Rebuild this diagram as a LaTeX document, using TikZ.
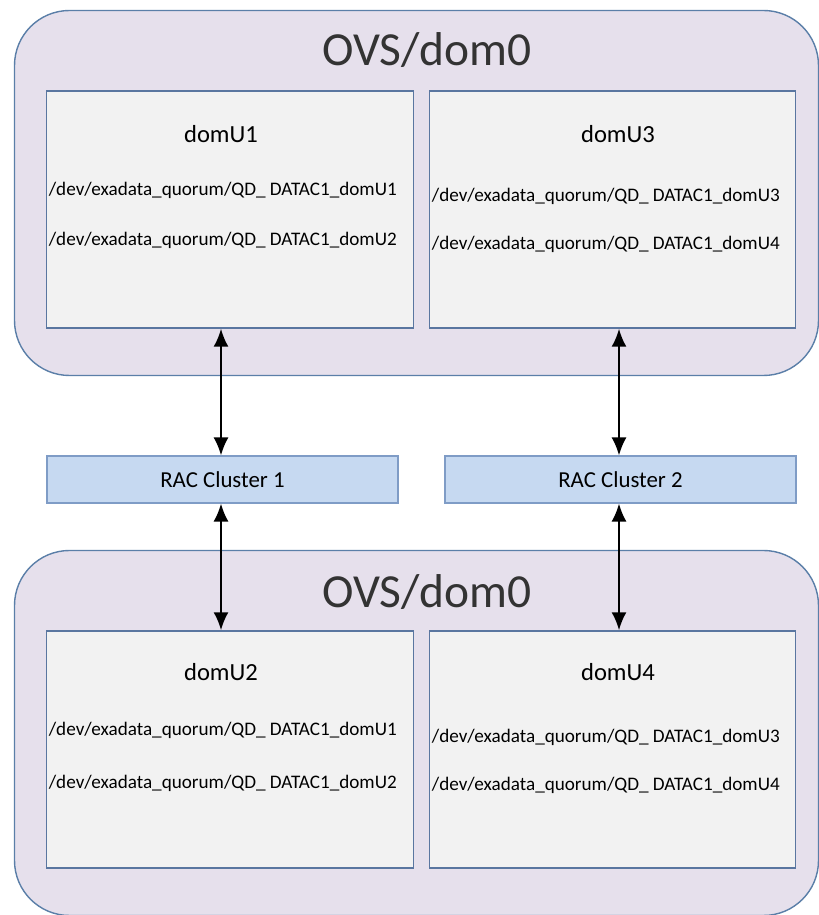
\documentclass[tikz,border=0pt]{standalone}
\usepackage{fontspec}
\setmainfont{Carlito}
\usetikzlibrary{arrows.meta}
\definecolor{hostfill}{HTML}{E6E0EC}
\definecolor{hostline}{HTML}{5B7FA8}
\definecolor{guestfill}{HTML}{F2F2F2}
\definecolor{guestline}{HTML}{5A76A0}
\definecolor{racfill}{HTML}{C6D9F1}
\definecolor{racline}{HTML}{7F9CC6}
\begin{document}
\begin{tikzpicture}[
  host/.style={rectangle, rounded corners=1.1cm, draw=hostline, fill=hostfill, line width=0.8pt, minimum width=16.08cm, minimum height=7.3cm},
  guest/.style={rectangle, draw=guestline, fill=guestfill, line width=0.8pt, minimum width=7.33cm, minimum height=4.74cm},
  rac/.style={rectangle, draw=racline, fill=racfill, line width=0.6pt, minimum width=7.02cm, minimum height=0.94cm, font=\fontsize{13}{15}\selectfont},
  title/.style={font=\fontsize{27}{30}\selectfont, text=black!80},
  vm/.style={font=\fontsize{14}{16}\selectfont},
  disk/.style={font=\fontsize{10.9}{12}\selectfont, inner sep=0pt},
  link/.style={{Latex[length=3.6mm,width=3mm]}-{Latex[length=3.6mm,width=3mm]}, line width=1.2pt}
]
\useasboundingbox (0,0) rectangle (16.36,18.3);
% hosts
\node[host] (top) at (8.33,14.44) {};
\node[host] (bot) at (8.33,3.64) {};
\node[title] (toptitle) at (8.54,17.3) {OVS/dom0};
\node[title] (bottitle) at (8.54,6.45) {OVS/dom0};
% guests
\node[guest] (domU1) at (4.6,14.11) {};
\node[guest] (domU3) at (12.25,14.11) {};
\node[guest] (domU2) at (4.6,3.31) {};
\node[guest] (domU4) at (12.25,3.31) {};
\node[vm] at (4.42,15.62) {domU1};
\node[vm] at (12.36,15.62) {domU3};
\node[vm] at (4.42,4.85) {domU2};
\node[vm] at (12.36,4.85) {domU4};
\node[disk, anchor=west] at (0.97,14.5) {/dev/exadata\_quorum/QD\_ DATAC1\_domU1};
\node[disk, anchor=west] at (0.97,13.5) {/dev/exadata\_quorum/QD\_ DATAC1\_domU2};
\node[disk, anchor=west] at (8.63,14.38) {/dev/exadata\_quorum/QD\_ DATAC1\_domU3};
\node[disk, anchor=west] at (8.63,13.42) {/dev/exadata\_quorum/QD\_ DATAC1\_domU4};
\node[disk, anchor=west] at (0.97,3.7) {/dev/exadata\_quorum/QD\_ DATAC1\_domU1};
\node[disk, anchor=west] at (0.97,2.64) {/dev/exadata\_quorum/QD\_ DATAC1\_domU2};
\node[disk, anchor=west] at (8.63,3.56) {/dev/exadata\_quorum/QD\_ DATAC1\_domU3};
\node[disk, anchor=west] at (8.63,2.6) {/dev/exadata\_quorum/QD\_ DATAC1\_domU4};
% clusters
\node[rac] (rac1) at (4.45,8.71) {RAC Cluster 1};
\node[rac] (rac2) at (12.41,8.71) {RAC Cluster 2};
\draw[link] (domU1.south -| 4.42,0) -- (rac1.north -| 4.42,0);
\draw[link] (rac1.south -| 4.42,0) -- (domU2.north -| 4.42,0);
\draw[link] (domU3.south -| 12.38,0) -- (rac2.north -| 12.38,0);
\draw[link] (rac2.south -| 12.38,0) -- (domU4.north -| 12.38,0);
\end{tikzpicture}
\end{document}
